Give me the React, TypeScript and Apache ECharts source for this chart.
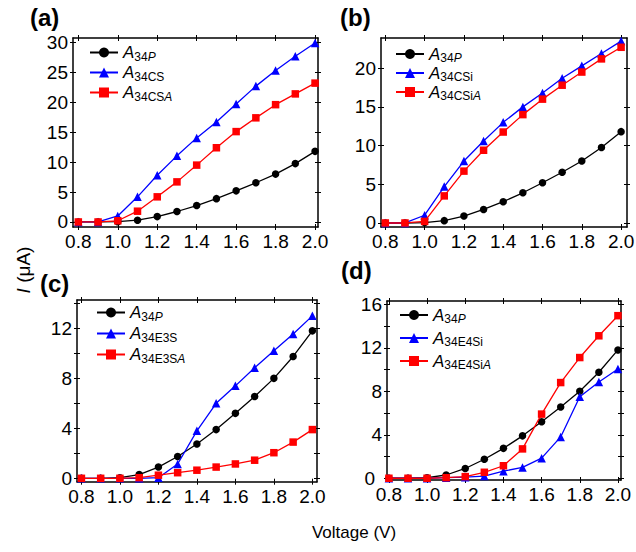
import React, { useEffect, useRef } from "react";
import * as echarts from "echarts";

// ---- data ----
const voltages = [0.8, 0.9, 1.0, 1.1, 1.2, 1.3, 1.4, 1.5, 1.6, 1.7, 1.8, 1.9, 2.0];
const A34P = [0, 0, 0.05, 0.3, 0.9, 1.75, 2.75, 3.9, 5.2, 6.55, 8.0, 9.75, 11.8];
const A34CS = [0, 0, 1.0, 4.2, 7.8, 11.05, 14.05, 16.7, 19.7, 22.7, 25.3, 27.7, 29.9];
const A34CSA = [0, 0, 0.2, 1.8, 4.2, 6.7, 9.5, 12.4, 15.1, 17.4, 19.6, 21.4, 23.2];
const A34CSi = [0, 0, 1.0, 4.7, 8.0, 10.6, 13.0, 15.0, 16.8, 18.7, 20.3, 21.9, 23.5];
const A34CSiA = [0, 0, 0.2, 3.5, 6.7, 9.4, 11.75, 14.0, 16.0, 17.8, 19.5, 21.2, 22.7];
const A34E3S = [0, 0, 0, 0, 0.05, 1.15, 3.8, 6.0, 7.4, 8.85, 10.2, 11.55, 13.0];
const A34E3SA = [0, 0, 0, 0.05, 0.25, 0.45, 0.65, 0.9, 1.15, 1.45, 2.05, 2.9, 3.9];
const A34E4Si = [0, 0, 0, 0.05, 0.1, 0.2, 0.65, 1.0, 1.85, 3.8, 7.5, 8.85, 10.05];
const A34E4SiA = [0, 0, 0, 0.05, 0.15, 0.55, 1.15, 2.7, 5.9, 8.8, 11.1, 13.1, 14.95];

const xTicks = [0.8, 1.0, 1.2, 1.4, 1.6, 1.8, 2.0];
const yTicksA = [0, 5, 10, 15, 20, 25, 30];
const yTicksB = [0, 5, 10, 15, 20];
const yLabelsC = [0, 4, 8, 12];
const yTicksC = [0, 2, 4, 6, 8, 10, 12, 14];
const yLabelsD = [0, 4, 8, 12, 16];
const yTicksD = [0, 2, 4, 6, 8, 10, 12, 14, 16];

const panelLetters = ["(a)", "(b)", "(c)", "(d)"];
const seriesNamesA = ["A34P", "A34CS", "A34CSA"];
const seriesNamesB = ["A34P", "A34CSi", "A34CSiA"];
const seriesNamesC = ["A34P", "A34E3S", "A34E3SA"];
const seriesNamesD = ["A34P", "A34E4Si", "A34E4SiA"];

const legendRich: Record<string, string> = {
  A34P: "{i|A}{s|34}{si|P}",
  A34CS: "{i|A}{s|34CS}",
  A34CSA: "{i|A}{s|34CS}{si|A}",
  A34CSi: "{i|A}{s|34CSi}",
  A34CSiA: "{i|A}{s|34CSi}{si|A}",
  A34E3S: "{i|A}{s|34E3S}",
  A34E3SA: "{i|A}{s|34E3S}{si|A}",
  A34E4Si: "{i|A}{s|34E4Si}",
  A34E4SiA: "{i|A}{s|34E4Si}{si|A}",
};

const FONT = "Liberation Sans, Arial, sans-serif";

const panels = [
  {
    names: seriesNamesA, values: [A34P, A34CS, A34CSA],
    yTicks: yTicksA, yLabels: yTicksA, zeroPad: 0,
    grid: { left: 73, top: 38, width: 245, height: 189 },
    x: [0.773, 2.015], y: [-0.84, 30.74],
    legend: { left: 89, top: 42.5, gap: 0 },
    letter: { x: 30, y: 5 },
  },
  {
    names: seriesNamesB, values: [A34P, A34CSi, A34CSiA],
    yTicks: yTicksB, yLabels: yTicksB, zeroPad: 0,
    grid: { left: 381, top: 38, width: 246, height: 189 },
    x: [0.778, 2.03], y: [-0.52, 23.9],
    legend: { left: 395, top: 44, gap: -1 },
    letter: { x: 340, y: 5 },
  },
  {
    names: seriesNamesC, values: [A34P, A34E3S, A34E3SA],
    yTicks: yTicksC, yLabels: yLabelsC, zeroPad: 0,
    grid: { left: 77, top: 300, width: 240, height: 181.7 },
    x: [0.777, 2.024], y: [-0.27, 14.27],
    legend: { left: 96, top: 302.5, gap: 1 },
    letter: { x: 40, y: 271 },
  },
  {
    names: seriesNamesD, values: [A34P, A34E4Si, A34E4SiA],
    yTicks: yTicksD, yLabels: yLabelsD, zeroPad: 7,
    grid: { left: 387, top: 301, width: 234, height: 179 },
    x: [0.79, 2.016], y: [-0.16, 16.3],
    legend: { left: 399, top: 305, gap: 3 },
    letter: { x: 341, y: 258 },
  },
];

const seriesStyles = [
  { color: "#000000", symbol: "circle", size: 7.5 },
  { color: "#0000ff", symbol: "triangle", size: 8.5 },
  { color: "#ff0000", symbol: "rect", size: 7.5 },
];

function buildOption() {
  const grid: any[] = [];
  const xAxis: any[] = [];
  const yAxis: any[] = [];
  const series: any[] = [];
  const legend: any[] = [];
  const graphic: any[] = [];
  const axisLineStyle = { color: "#000", width: 1.5 };
  const tickLine = { color: "#000", width: 1 };
  const TICK_FS = 19;

  panels.forEach((p, i) => {
    grid.push({ ...p.grid, containLabel: false, outerBoundsMode: "none" });
    const xBase = { type: "value", gridIndex: i, min: p.x[0], max: p.x[1], splitLine: { show: false } };
    const yBase = { type: "value", gridIndex: i, min: p.y[0], max: p.y[1], splitLine: { show: false } };
    xAxis.push({
      ...xBase, position: "bottom",
      axisLine: { show: true, onZero: false, lineStyle: axisLineStyle },
      axisTick: { show: true, inside: false, length: 3, customValues: xTicks, lineStyle: tickLine },
      axisLabel: {
        show: true, customValues: xTicks, formatter: (v: number) => v.toFixed(1),
        margin: 5, fontSize: TICK_FS, color: "#000", fontFamily: FONT,
      },
    });
    xAxis.push({
      ...xBase, position: "bottom",
      axisLine: { show: false, onZero: false },
      axisTick: { show: true, inside: true, length: 3, customValues: xTicks, lineStyle: tickLine },
      axisLabel: { show: false },
    });
    xAxis.push({
      ...xBase, position: "top",
      axisLine: { show: true, onZero: false, lineStyle: axisLineStyle },
      axisTick: { show: true, inside: false, length: 3, customValues: xTicks, lineStyle: tickLine },
      axisLabel: { show: false },
    });
    xAxis.push({
      ...xBase, position: "top",
      axisLine: { show: false, onZero: false },
      axisTick: { show: true, inside: true, length: 3, customValues: xTicks, lineStyle: tickLine },
      axisLabel: { show: false },
    });
    const zp = p.zeroPad;
    yAxis.push({
      ...yBase, position: "left",
      axisLine: { show: true, onZero: false, lineStyle: axisLineStyle },
      axisTick: { show: true, inside: false, length: 3, customValues: p.yTicks, lineStyle: tickLine },
      axisLabel: {
        show: true, customValues: p.yLabels,
        formatter: (v: number) => (Math.round(v) === 0 && zp ? "{z|0}" : String(Math.round(v))),
        margin: 5, fontSize: TICK_FS, color: "#000", fontFamily: FONT,
        rich: { z: { fontSize: TICK_FS, fontFamily: FONT, color: "#000", padding: [0, zp, 0, 0] } },
      },
    });
    yAxis.push({
      ...yBase, position: "left",
      axisLine: { show: false, onZero: false },
      axisTick: { show: true, inside: true, length: 3, customValues: p.yTicks, lineStyle: tickLine },
      axisLabel: { show: false },
    });
    yAxis.push({
      ...yBase, position: "right",
      axisLine: { show: true, onZero: false, lineStyle: axisLineStyle },
      axisTick: { show: true, inside: false, length: 3, customValues: p.yTicks, lineStyle: tickLine },
      axisLabel: { show: false },
    });
    yAxis.push({
      ...yBase, position: "right",
      axisLine: { show: false, onZero: false },
      axisTick: { show: true, inside: true, length: 3, customValues: p.yTicks, lineStyle: tickLine },
      axisLabel: { show: false },
    });

    const names: string[] = [];
    p.names.forEach((nm, k) => {
      const st = seriesStyles[k];
      const full = String.fromCharCode(97 + i) + ":" + nm;
      names.push(full);
      series.push({
        type: "line",
        name: full,
        xAxisIndex: i * 4,
        yAxisIndex: i * 4,
        data: voltages.map((v, j) => [v, p.values[k][j]]),
        symbol: st.symbol,
        symbolSize: st.size,
        showSymbol: true,
        clip: false,
        lineStyle: { color: st.color, width: 1.3 },
        itemStyle: { color: st.color },
        z: 2 + k,
      });
    });
    legend.push({
      orient: "vertical",
      left: p.legend.left,
      top: p.legend.top,
      padding: 0,
      itemGap: p.legend.gap,
      itemWidth: 28,
      itemHeight: 12.5,
      selectedMode: false,
      data: names,
      formatter: (name: string) => legendRich[name.split(":")[1]],
      textStyle: {
        color: "#000",
        fontFamily: FONT,
        rich: {
          i: { fontFamily: FONT, fontStyle: "italic", fontSize: 17, lineHeight: 19, color: "#000" },
          s: { fontFamily: FONT, fontSize: 12, lineHeight: 11, padding: [8, 0, 0, 0], color: "#000" },
          si: { fontFamily: FONT, fontStyle: "italic", fontSize: 12, lineHeight: 11, padding: [8, 0, 0, 0], color: "#000" },
        },
      },
    });
    graphic.push({
      type: "text",
      left: p.letter.x,
      top: p.letter.y,
      style: { text: panelLetters[i], fontSize: 24, fontWeight: "bold", fontFamily: FONT, fill: "#000" },
    });
  });

  graphic.push({
    type: "text",
    x: 23,
    y: 270,
    rotation: Math.PI / 2,
    style: {
      text: "{it|I} (μA)",
      fontSize: 19,
      fontFamily: FONT,
      fill: "#000",
      align: "center",
      verticalAlign: "middle",
      rich: { it: { fontStyle: "italic", fontSize: 19, fontFamily: FONT, fill: "#000" } },
    },
  });
  graphic.push({
    type: "text",
    x: 354,
    y: 532,
    style: {
      text: "Voltage (V)",
      fontSize: 17,
      fontFamily: FONT,
      fill: "#000",
      align: "center",
      verticalAlign: "middle",
    },
  });

  return {
    animation: false,
    backgroundColor: "#ffffff",
    grid,
    xAxis,
    yAxis,
    series,
    legend,
    graphic,
  };
}

export default function App() {
  const ref = useRef<HTMLDivElement>(null);
  useEffect(() => {
    if (!ref.current) return;
    const chart = echarts.init(ref.current, null, { renderer: "svg" });
    chart.setOption(buildOption() as any);
    return () => chart.dispose();
  }, []);
  return (
    <div
      ref={ref}
      style={{ position: "absolute", left: 0, top: 0, width: 636, height: 552, background: "#fff" }}
    />
  );
}
